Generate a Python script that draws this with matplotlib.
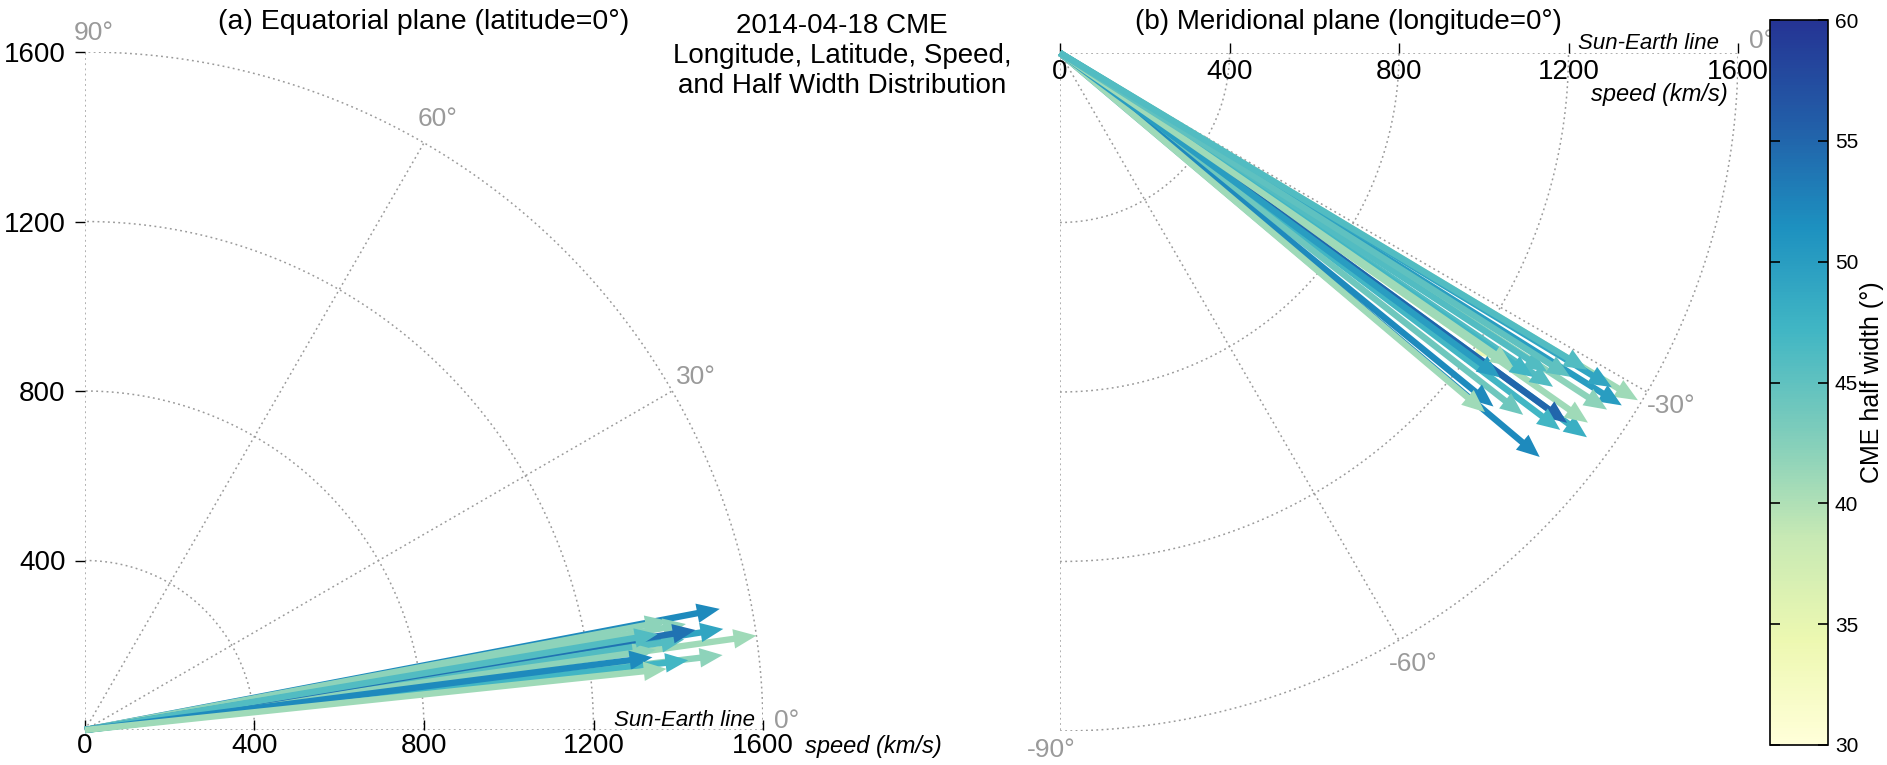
import numpy as np
import matplotlib
matplotlib.use("Agg")
import matplotlib.pyplot as plt
from matplotlib.colors import LinearSegmentedColormap, Normalize
from matplotlib.cm import ScalarMappable

plt.rcParams['font.family'] = ['Liberation Sans', 'DejaVu Sans']

# ---------------- data ----------------
# Panel (a): equatorial plane -> longitude (deg), speed (km/s), half width (deg)
lon_a = [8.5, 8.0, 10.8, 9.0, 6.7, 6.6, 10.6, 10.0, 8.6, 8.0, 9.3, 9.5, 7.3, 6.0]
spd_a = [1300, 1600, 1525, 1525, 1515, 1433, 1400, 1440, 1430, 1360, 1460, 1370, 1350, 1380]
hw_a = [34, 41, 52, 49, 42, 47, 42, 42, 46, 42, 54, 46, 52, 41]

# Panel (b): meridional plane -> latitude (deg), speed (km/s), half width (deg)
lat_b = [-35.0, -31.0, -32.1, -31.2, -33.1, -36.1, -35.0, -36.1, -37.0, -40.1,
         -34.1, -33.2, -38.0, -39.2, -40.2, -34.4, -36.4, -34.7, -32.4, -31.0]
spd_b = [1260, 1591, 1565, 1522, 1541, 1539, 1521, 1481, 1478, 1480,
         1405, 1374, 1387, 1320, 1313, 1353, 1290, 1301, 1426, 1451]
hw_b = [34, 41, 50, 49, 42, 48, 41, 55, 47, 52,
        46, 46, 44, 52, 41, 47, 50, 41, 45, 46]

r_ticks = [0, 400, 800, 1200, 1600]
ang_a = [0, 30, 60, 90]
ang_b = [0, -30, -60, -90]
hw_range = (30, 60)
cbar_ticks = [30, 35, 40, 45, 50, 55, 60]

# colour map: YlGnBu (first 8 brewer classes)
cmap = LinearSegmentedColormap.from_list(
    'ylgnbu8', ['#ffffd9', '#edf8b1', '#c7e9b4', '#7fcdbb', '#41b6c4',
                '#1d91c0', '#225ea8', '#253494'])
norm = Normalize(*hw_range)

GRID = dict(color='#9a9a9a', lw=1.1, ls=(0, (1.2, 2.2)), zorder=1)
GRAY = '#9a9a9a'
R = r_ticks[-1]

fig = plt.figure(figsize=(18.87, 7.65), dpi=100)
W, H = 1887.0, 765.0
axa = fig.add_axes([85 / W, 35 / H, 678 / W, 678 / H])
axb = fig.add_axes([1060 / W, 34 / H, 678 / W, 678 / H])
cax = fig.add_axes([1770 / W, 20 / H, 58 / W, 725 / H])


def draw_grid(ax, angles, sign):
    th0, th1 = (0, 90) if sign > 0 else (-90, 0)
    t = np.radians(np.linspace(th0, th1, 200))
    for r in r_ticks[1:]:
        ax.plot(r * np.cos(t), r * np.sin(t), **GRID)
    for a in angles:
        ax.plot([0, R * np.cos(np.radians(a))], [0, R * np.sin(np.radians(a))], **GRID)
    for a in angles:
        if abs(a) == 90:
            x, y = 20 * sign, 1645 * sign
        elif a == 0:
            x, y = 1655, 22 if sign > 0 else 28
        else:
            x, y = 1665 * np.cos(np.radians(a)), 1665 * np.sin(np.radians(a))
        ax.text(x, y, f"{a}°", color=GRAY, fontsize=19, ha='center', va='center',
                clip_on=False)


def draw_arrows(ax, ang, spd, hw):
    for a, s, h in zip(ang, spd, hw):
        dx, dy = s * np.cos(np.radians(a)), s * np.sin(np.radians(a))
        ax.arrow(0, 0, dx, dy, width=15, head_width=46, head_length=54,
                 length_includes_head=True, color=cmap(norm(h)), lw=0, zorder=3,
                 clip_on=False)


for ax in (axa, axb):
    ax.set_xlim(0, R)
    for sp in ax.spines.values():
        sp.set_visible(False)
    ax.set_facecolor('none')

# ----- panel (a) -----
axa.set_ylim(0, R)
draw_grid(axa, ang_a, 1)
draw_arrows(axa, lon_a, spd_a, hw_a)
axa.set_xticks(r_ticks)
axa.set_yticks(r_ticks[1:])
axa.tick_params(axis='x', direction='in', length=7, width=1, labelsize=20, pad=2)
axa.tick_params(axis='y', direction='out', length=7, width=1, labelsize=20, pad=7)
axa.text(1582, 10, 'Sun-Earth line', fontsize=16, style='italic', ha='right',
         va='baseline')
axa.text(1700, -40, 'speed (km/s)', fontsize=17, style='italic', ha='left', va='center',
         clip_on=False)

# ----- panel (b) -----
axb.set_ylim(-R, 0)
draw_grid(axb, ang_b, -1)
draw_arrows(axb, lat_b, spd_b, hw_b)
axb.xaxis.tick_top()
axb.set_xticks(r_ticks)
axb.set_yticks([])
axb.tick_params(axis='x', direction='out', length=7, width=1, labelsize=20, pad=-30)
axb.text(1555, 10, 'Sun-Earth line', fontsize=16, style='italic', ha='right',
         va='baseline')
axb.text(1575, -97, 'speed (km/s)', fontsize=17, style='italic', ha='right', va='center')

# ----- titles -----
fig.text(424 / W, 1 - 22 / H, '(a) Equatorial plane (latitude=0°)', fontsize=20.5,
         ha='center', va='center')
fig.text(1348 / W, 1 - 22 / H, '(b) Meridional plane (longitude=0°)', fontsize=20,
         ha='center', va='center')
fig.text(842 / W, 1 - 56 / H,
         '2014-04-18 CME\nLongitude, Latitude, Speed,\nand Half Width Distribution',
         fontsize=20, ha='center', va='center', linespacing=1.19)

# ----- colorbar -----
cb = fig.colorbar(ScalarMappable(norm=norm, cmap=cmap), cax=cax, ticks=cbar_ticks)
cb.outline.set_linewidth(1.2)
cax.tick_params(direction='in', left=True, right=True, length=7, width=1.2,
                labelsize=15, pad=5)
cb.set_label('CME half width (°)', fontsize=18, labelpad=1)

fig.savefig('out.png', dpi=100)
